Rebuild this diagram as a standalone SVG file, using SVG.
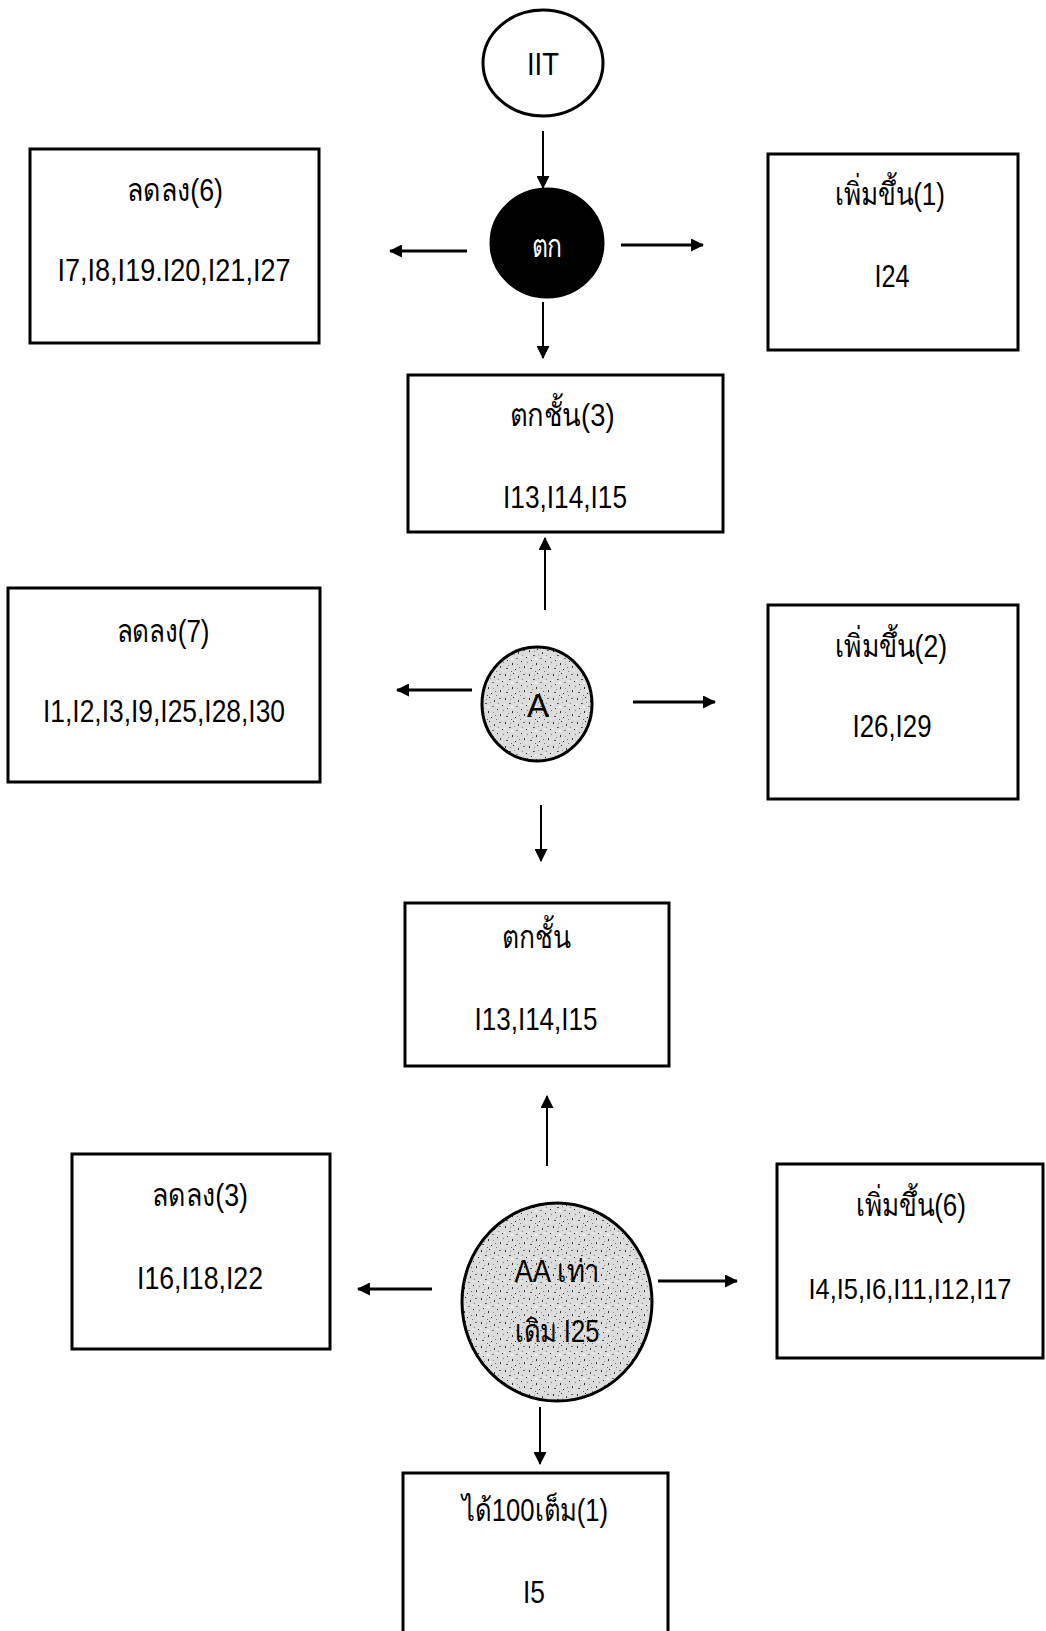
<svg xmlns="http://www.w3.org/2000/svg" width="1046" height="1631" viewBox="0 0 1046 1631">
<style>
  .box{fill:#fff;stroke:#000;stroke-width:3}
  .node-ell{stroke:#000;stroke-width:3}
  .t{font-family:"Liberation Sans","Noto Sans","DejaVu Sans",sans-serif;font-size:31px;fill:#000;text-anchor:middle}
  .w{fill:#fff}
  .c{stroke:#000;stroke-width:2;fill:none;marker-end:url(#ah)}
  .c3{stroke-width:3}
</style>
<defs>
  <marker id="ah" viewBox="0 0 12 12" refX="11" refY="6" markerWidth="13" markerHeight="13" markerUnits="userSpaceOnUse" orient="auto">
    <path d="M0,0 L12,6 L0,12 z" fill="#000"/>
  </marker>
  <pattern id="speckle" width="24" height="24" patternUnits="userSpaceOnUse">
    <rect width="24" height="24" fill="#dcdcdc"/>
    <rect x="1" y="2" width="1" height="2" fill="#333"/>
    <rect x="5" y="7" width="2" height="1" fill="#555"/>
    <rect x="9" y="1" width="1" height="1" fill="#222"/>
    <rect x="14" y="4" width="1" height="2" fill="#444"/>
    <rect x="19" y="2" width="2" height="1" fill="#666"/>
    <rect x="22" y="9" width="1" height="1" fill="#222"/>
    <rect x="3" y="12" width="1" height="1" fill="#444"/>
    <rect x="8" y="15" width="1" height="2" fill="#333"/>
    <rect x="12" y="10" width="2" height="1" fill="#777"/>
    <rect x="17" y="13" width="1" height="1" fill="#222"/>
    <rect x="20" y="18" width="1" height="2" fill="#444"/>
    <rect x="2" y="20" width="2" height="1" fill="#555"/>
    <rect x="11" y="21" width="1" height="1" fill="#222"/>
    <rect x="15" y="19" width="1" height="1" fill="#666"/>
    <rect x="6" y="3" width="1" height="1" fill="#888"/>
    <rect x="10" y="6" width="1" height="1" fill="#999"/>
    <rect x="18" y="7" width="1" height="1" fill="#888"/>
    <rect x="4" y="17" width="1" height="1" fill="#888"/>
    <rect x="13" y="16" width="1" height="1" fill="#999"/>
    <rect x="23" y="14" width="1" height="1" fill="#777"/>
    <rect x="7" y="23" width="1" height="1" fill="#555"/>
    <rect x="16" y="23" width="1" height="1" fill="#777"/>
    <rect x="0" y="8" width="1" height="1" fill="#f4f4f4"/>
    <rect x="7" y="10" width="2" height="2" fill="#f0f0f0"/>
    <rect x="16" y="9" width="2" height="1" fill="#f2f2f2"/>
    <rect x="21" y="22" width="2" height="1" fill="#f0f0f0"/>
    <rect x="10" y="17" width="1" height="2" fill="#f4f4f4"/>
  </pattern>
</defs>

<g id="connectors">
  <line class="c" x1="543" y1="131" x2="543" y2="188"/>
  <line class="c c3" x1="467" y1="251" x2="390" y2="251"/>
  <line class="c c3" x1="621" y1="245" x2="703" y2="245"/>
  <line class="c" x1="543" y1="302" x2="543" y2="358"/>
  <line class="c" x1="545" y1="610" x2="545" y2="538"/>
  <line class="c c3" x1="472" y1="690" x2="397" y2="690"/>
  <line class="c c3" x1="633" y1="702" x2="715" y2="702"/>
  <line class="c" x1="541" y1="805" x2="541" y2="861"/>
  <line class="c" x1="547" y1="1166" x2="547" y2="1096"/>
  <line class="c c3" x1="432" y1="1289" x2="358" y2="1289"/>
  <line class="c c3" x1="658" y1="1281" x2="737" y2="1281"/>
  <line class="c" x1="540" y1="1407" x2="540" y2="1464"/>
</g>

<g id="node-iit">
  <ellipse class="node-ell" cx="543" cy="63" rx="60" ry="53" fill="#fff" stroke-width="2.5"/>
  <text class="t" x="543" y="75" textLength="32" lengthAdjust="spacingAndGlyphs">IIT</text>
</g>

<g id="node-tok">
  <ellipse class="node-ell" cx="547" cy="243" rx="56" ry="54" fill="#000"/>
  <text class="t w" x="547" y="257" textLength="31" lengthAdjust="spacingAndGlyphs">ตก</text>
</g>

<g id="node-down6">
  <rect class="box" x="30" y="149" width="289" height="194"/>
  <text class="t" x="175" y="201" textLength="96" lengthAdjust="spacingAndGlyphs">ลดลง(6)</text>
  <text class="t" x="174" y="281" textLength="233" lengthAdjust="spacingAndGlyphs">I7,I8,I19.I20,I21,I27</text>
</g>

<g id="node-up1">
  <rect class="box" x="768" y="154" width="250" height="196"/>
  <text class="t" x="890" y="205" textLength="110" lengthAdjust="spacingAndGlyphs">เพิ่มขึ้น(1)</text>
  <text class="t" x="892" y="287" textLength="35" lengthAdjust="spacingAndGlyphs">I24</text>
</g>

<g id="node-fail3">
  <rect class="box" x="408" y="375" width="315" height="157"/>
  <text class="t" x="562" y="426" textLength="105" lengthAdjust="spacingAndGlyphs">ตกชั้น(3)</text>
  <text class="t" x="565" y="508" textLength="124" lengthAdjust="spacingAndGlyphs">I13,I14,I15</text>
</g>

<g id="node-down7">
  <rect class="box" x="8" y="588" width="312" height="194"/>
  <text class="t" x="163" y="642" textLength="93" lengthAdjust="spacingAndGlyphs">ลดลง(7)</text>
  <text class="t" x="164" y="722" textLength="242" lengthAdjust="spacingAndGlyphs">I1,I2,I3,I9,I25,I28,I30</text>
</g>

<g id="node-a">
  <ellipse class="node-ell" cx="537" cy="704" rx="55" ry="57" fill="url(#speckle)"/>
  <text class="t" x="538" y="717" style="font-size:34px" textLength="22" lengthAdjust="spacingAndGlyphs">A</text>
</g>

<g id="node-up2">
  <rect class="box" x="768" y="605" width="250" height="194"/>
  <text class="t" x="891" y="657" textLength="112" lengthAdjust="spacingAndGlyphs">เพิ่มขึ้น(2)</text>
  <text class="t" x="892" y="737" textLength="79" lengthAdjust="spacingAndGlyphs">I26,I29</text>
</g>

<g id="node-fail">
  <rect class="box" x="405" y="903" width="264" height="163"/>
  <text class="t" x="536" y="948" textLength="69" lengthAdjust="spacingAndGlyphs">ตกชั้น</text>
  <text class="t" x="536" y="1030" textLength="123" lengthAdjust="spacingAndGlyphs">I13,I14,I15</text>
</g>

<g id="node-down3">
  <rect class="box" x="72" y="1154" width="258" height="195"/>
  <text class="t" x="200" y="1206" textLength="96" lengthAdjust="spacingAndGlyphs">ลดลง(3)</text>
  <text class="t" x="200" y="1289" textLength="126" lengthAdjust="spacingAndGlyphs">I16,I18,I22</text>
</g>

<g id="node-aa">
  <ellipse class="node-ell" cx="557" cy="1302" rx="95" ry="99" fill="url(#speckle)"/>
  <text class="t" x="557" y="1282" textLength="85" lengthAdjust="spacingAndGlyphs">AA เท่า</text>
  <text class="t" x="557" y="1342" textLength="85" lengthAdjust="spacingAndGlyphs">เดิม I25</text>
</g>

<g id="node-up6">
  <rect class="box" x="777" y="1164" width="266" height="194"/>
  <text class="t" x="911" y="1216" textLength="110" lengthAdjust="spacingAndGlyphs">เพิ่มขึ้น(6)</text>
  <text class="t" x="910" y="1299" style="font-size:29px" textLength="203" lengthAdjust="spacingAndGlyphs">I4,I5,I6,I11,I12,I17</text>
</g>

<g id="node-full100">
  <rect class="box" x="403" y="1473" width="265" height="170"/>
  <text class="t" x="535" y="1521" textLength="146" lengthAdjust="spacingAndGlyphs">ได้100เต็ม(1)</text>
  <text class="t" x="534" y="1603" textLength="22" lengthAdjust="spacingAndGlyphs">I5</text>
</g>
</svg>
